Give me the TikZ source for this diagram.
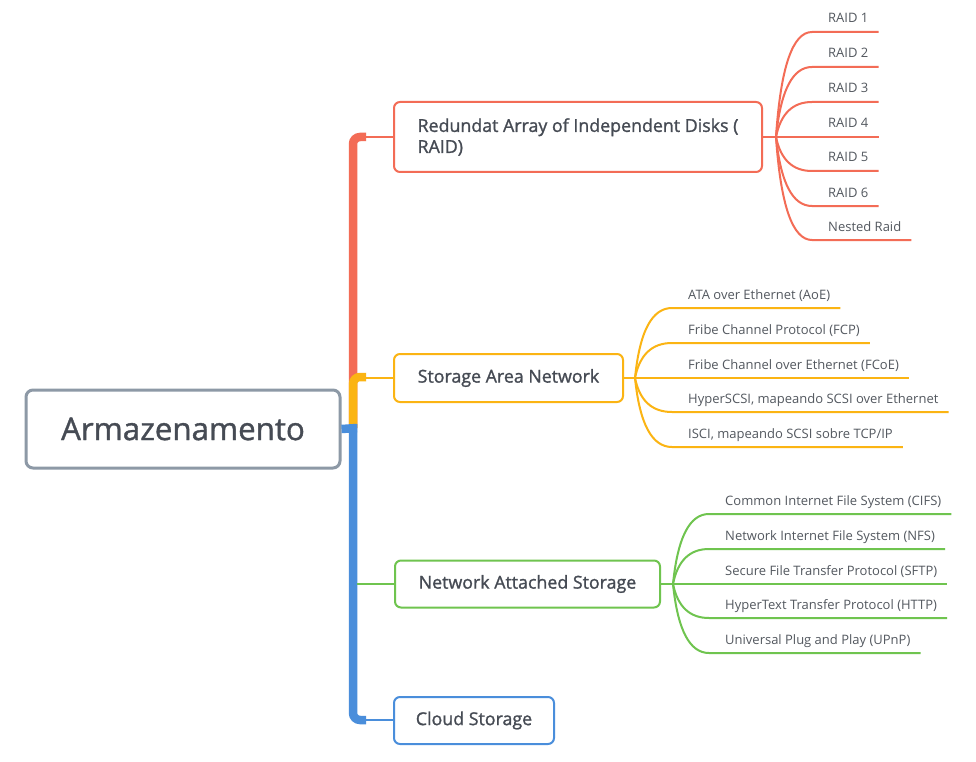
\documentclass[tikz,border=0pt]{standalone}
\usepackage{fontspec}
\setmainfont{Open Sans}
\newfontfamily\topicfont[FakeBold=1.3]{Open Sans}
\newfontfamily\rootfont[FakeBold=1.1]{Open Sans}
\usetikzlibrary{calc}
\definecolor{cred}{HTML}{F36C56}
\definecolor{cyel}{HTML}{FBB413}
\definecolor{cgreen}{HTML}{6FC44F}
\definecolor{cblue}{HTML}{4A8EDB}
\definecolor{cgray}{HTML}{8D99A6}
\definecolor{ctext}{HTML}{464B54}
\definecolor{cleaf}{HTML}{53585F}
\newcommand\mmleaf[6]{%
  \node[leaf, anchor=base west] (#1) at (#4,{#5-9}) {#6};
  \coordinate (#1cp) at ($(#3 |- #1.base)+(7,9)$);
  \coordinate (#1st) at ($(#1.base west)+(-16,9)$);
  \draw[conn, #2] (#3) .. controls ($(#3)!0.667!(#1cp)$) and ($(#1st)!0.667!(#1cp)$) .. (#1st) -- ($(#1.base east)+(10,9)$);
}
\begin{document}
\begin{tikzpicture}[x=1pt,y=-1pt,
  trunk/.style={line width=8.5pt},
  conn/.style={line width=2pt},
  topic/.style={draw, line width=2pt, rounded corners=6pt, fill=white, inner sep=0pt,
     text=ctext, font=\topicfont\fontsize{17.8}{21}\selectfont},
  leaf/.style={inner sep=0pt, text=cleaf, font=\fontsize{13}{15}\selectfont},
]
\useasboundingbox[fill=white] (0,0) rectangle (976,762);

% root
\node[draw=cgray, line width=3pt, rounded corners=7pt, minimum width=314pt, minimum height=78pt,
  inner sep=0pt, text=ctext, font=\rootfont\fontsize{31.3}{36}\selectfont] (root) at (183,429) {Armazenamento};

% trunk
\coordinate (tk) at (353,428);
\draw[trunk, cred, rounded corners=7pt] (tk) -- (353,137) -- (366,137);
\draw[trunk, cyel, rounded corners=7pt] (tk) -- (353,377) -- (366,377);
\draw[trunk, cblue] (root.east) -- (357,428);
\draw[trunk, cblue, rounded corners=7pt] (353,424) -- (353,720) -- (366,720);

% main topics
\node[topic, draw=cred, minimum width=368pt, minimum height=70pt, align=left]
  (raid) at (578,137) {Redundat Array of Independent Disks (\\RAID)};
\node[topic, draw=cyel, minimum width=229pt, minimum height=48pt] (san) at (508.5,378) {Storage Area Network};
\node[topic, draw=cgreen, minimum width=265pt, minimum height=47pt] (nas) at (527.5,584) {Network Attached Storage};
\node[topic, draw=cblue, minimum width=160pt, minimum height=47pt] (cloud) at (474,720.5) {Cloud Storage};

\coordinate (braid) at (360,137);
\coordinate (bsan) at (360,377.5);
\coordinate (bnas) at (357,584);
\coordinate (bcloud) at (360,720);
\draw[conn, cred] (braid) -- (raid.west |- braid);
\draw[conn, cyel] (bsan) -- (san.west |- bsan);
\draw[conn, cgreen] (bnas) -- (nas.west);
\draw[conn, cblue] (bcloud) -- (cloud.west |- bcloud);

% junctions
\coordinate (j1) at (776,137);
\coordinate (j2) at (635,378);
\coordinate (j3) at (673,584);
\draw[conn, cred] (raid.east |- j1) -- (j1);
\draw[conn, cyel] (san.east |- j2) -- (j2);
\draw[conn, cgreen] (nas.east |- j3) -- (j3);

% RAID leaves
\mmleaf{r1}{cred}{j1}{828}{32}{RAID 1}
\mmleaf{r2}{cred}{j1}{828}{67}{RAID 2}
\mmleaf{r3}{cred}{j1}{828}{102}{RAID 3}
\mmleaf{r4}{cred}{j1}{828}{137}{RAID 4}
\mmleaf{r5}{cred}{j1}{828}{171}{RAID 5}
\mmleaf{r6}{cred}{j1}{828}{206}{RAID 6}
\mmleaf{r7}{cred}{j1}{828}{240}{Nested Raid}

% SAN leaves
\mmleaf{s1}{cyel}{j2}{688}{308}{ATA over Ethernet (AoE)}
\mmleaf{s2}{cyel}{j2}{688}{343}{Fribe Channel Protocol (FCP)}
\mmleaf{s3}{cyel}{j2}{688}{378}{Fribe Channel over Ethernet (FCoE)}
\mmleaf{s4}{cyel}{j2}{688}{412}{HyperSCSI, mapeando SCSI over Ethernet}
\mmleaf{s5}{cyel}{j2}{688}{447}{ISCI, mapeando SCSI sobre TCP/IP}

% NAS leaves
\mmleaf{n1}{cgreen}{j3}{725}{514}{Common Internet File System (CIFS)}
\mmleaf{n2}{cgreen}{j3}{725}{549}{Network Internet File System (NFS)}
\mmleaf{n3}{cgreen}{j3}{725}{584}{Secure File Transfer Protocol (SFTP)}
\mmleaf{n4}{cgreen}{j3}{725}{618}{HyperText Transfer Protocol (HTTP)}
\mmleaf{n5}{cgreen}{j3}{725}{653}{Universal Plug and Play (UPnP)}
\end{tikzpicture}
\end{document}
